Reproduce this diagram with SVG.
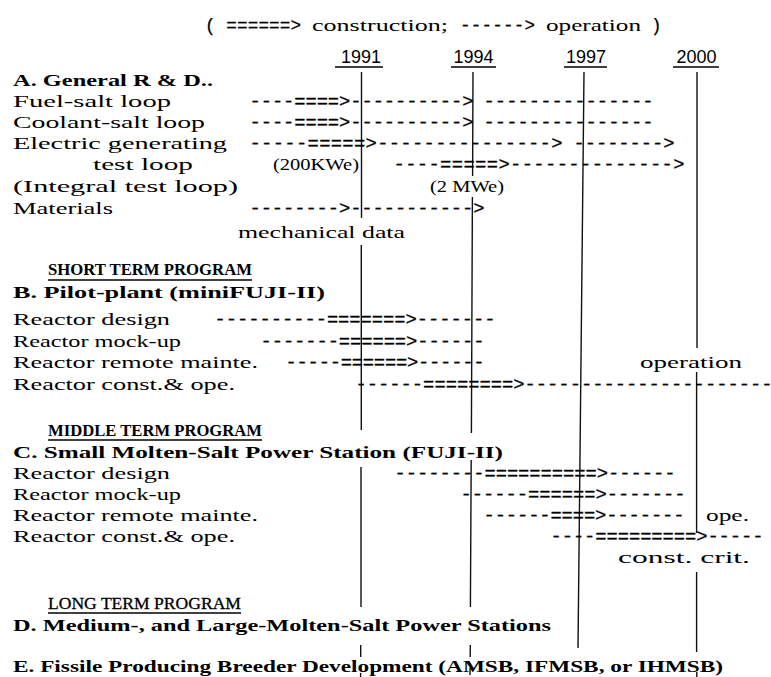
<svg xmlns="http://www.w3.org/2000/svg" width="771" height="677" viewBox="0 0 771 677">
<style>
.t{font-family:"Liberation Serif","Times New Roman",serif;font-size:17.5px;fill:#000}
.tm{font-family:"Liberation Mono","Courier New",monospace;font-size:17.6px;fill:#000;stroke:#000;stroke-width:0.25}
.b{font-family:"Liberation Serif","Times New Roman",serif;font-size:17.5px;font-weight:bold;fill:#000}
.bar{font-family:"Liberation Mono","Courier New",monospace;font-size:18.8px;fill:#000;stroke:#000;stroke-width:0.3}
.yr{font-family:"Liberation Sans",Arial,sans-serif;font-size:18px;fill:#000;text-anchor:middle}
.hd{font-family:"Liberation Serif","Times New Roman",serif;font-size:17px;font-weight:bold;fill:#000}
.lt{font-family:"Liberation Serif","Times New Roman",serif;font-size:17px;fill:#000;stroke:#000;stroke-width:0.3}
.ul{stroke:#000;stroke-width:1.3;fill:none}
.ln{stroke:#111;stroke-width:1.4;fill:none}
</style>
<rect width="771" height="677" fill="#fff"/>

<g id="legend">
<text class="tm" x="205" y="31" textLength="96" lengthAdjust="spacing">( ======&gt;</text>
<text class="t" x="312" y="31" font-size="17" textLength="136" lengthAdjust="spacingAndGlyphs">construction;</text>
<text class="tm" x="460" y="31" textLength="75" lengthAdjust="spacing">------&gt;</text>
<text class="t" x="546" y="31" font-size="17" textLength="95" lengthAdjust="spacingAndGlyphs">operation</text>
<text class="tm" x="651" y="31">)</text>
</g>

<g id="years">
<text class="yr" x="361" y="63">1991</text>
<text class="yr" x="473.5" y="63">1994</text>
<text class="yr" x="586" y="63">1997</text>
<text class="yr" x="696.5" y="63">2000</text>
<path class="ul" d="M335 67H383M451 67H496M564 67H607M673 67H719"/>
</g>

<g id="timelines">
<path class="ln" d="M361.5 72V218M361.3 245V430M361 467V607M360.7 645V657M360.6 673V677"/>
<path class="ln" d="M473 72L472.6 176M472.4 197L471.4 433M471.2 460L470.4 607M470.3 645L470.2 657M470.1 668L470 675"/>
<path class="ln" d="M584 72L578 648"/>
<path class="ln" d="M697 72V348M696.6 372V533M696.6 572V652M696.8 672V677"/>
</g>

<g id="sectionA">
<text class="b" x="13" y="86" textLength="200" lengthAdjust="spacingAndGlyphs">A. General R &amp; D..</text>
<g id="fuel-salt-loop">
<text class="t" x="13" y="107" textLength="158" lengthAdjust="spacingAndGlyphs">Fuel-salt loop</text>
<text class="bar" x="249.5" y="107" textLength="224" lengthAdjust="spacing">----====&gt;----------&gt;</text>
<text class="bar" x="483.5" y="107" textLength="170" lengthAdjust="spacing">---------------</text>
</g>
<g id="coolant-salt-loop">
<text class="t" x="13" y="128" textLength="192" lengthAdjust="spacingAndGlyphs">Coolant-salt loop</text>
<text class="bar" x="249.5" y="128" textLength="224" lengthAdjust="spacing">----====&gt;----------&gt;</text>
<text class="bar" x="483.5" y="128" textLength="170" lengthAdjust="spacing">---------------</text>
</g>
<g id="electric-generating">
<text class="t" x="13" y="149" textLength="214" lengthAdjust="spacingAndGlyphs">Electric generating</text>
<text class="t" x="93" y="170" textLength="100" lengthAdjust="spacingAndGlyphs">test loop</text>
<text class="bar" x="249.5" y="149" textLength="313" lengthAdjust="spacing">-----=====&gt;---------------&gt;</text>
<text class="bar" x="573.5" y="149" textLength="101" lengthAdjust="spacing">--------&gt;</text>
<text class="t" x="273" y="170" textLength="86" lengthAdjust="spacingAndGlyphs">(200KWe)</text>
<text class="bar" x="393.5" y="170" textLength="291" lengthAdjust="spacing">----=====&gt;--------------&gt;</text>
</g>
<g id="integral-test-loop">
<text class="t" x="13" y="192" textLength="225" lengthAdjust="spacingAndGlyphs">(Integral test loop)</text>
<text class="t" x="430" y="192" textLength="74" lengthAdjust="spacingAndGlyphs">(2 MWe)</text>
</g>
<g id="materials">
<text class="t" x="13" y="214" textLength="100" lengthAdjust="spacingAndGlyphs">Materials</text>
<text class="bar" x="249.5" y="214" textLength="235" lengthAdjust="spacing">--------&gt;-----------&gt;</text>
<text class="t" x="238" y="238" textLength="167" lengthAdjust="spacingAndGlyphs">mechanical data</text>
</g>
</g>

<g id="sectionB">
<text class="hd" x="48" y="275" textLength="204" lengthAdjust="spacingAndGlyphs">SHORT TERM PROGRAM</text>
<path class="ul" d="M48 280H252"/>
<text class="b" x="13" y="298" textLength="312" lengthAdjust="spacingAndGlyphs">B. Pilot-plant (miniFUJI-II)</text>
<g id="b-reactor-design">
<text class="t" x="13" y="325" textLength="157" lengthAdjust="spacingAndGlyphs">Reactor design</text>
<text class="bar" x="214.5" y="325" textLength="281" lengthAdjust="spacing">----------=======&gt;-------</text>
</g>
<g id="b-reactor-mockup">
<text class="t" x="13" y="347" textLength="168" lengthAdjust="spacingAndGlyphs">Reactor mock-up</text>
<text class="bar" x="260.5" y="347" textLength="224" lengthAdjust="spacing">-------======&gt;------</text>
</g>
<g id="b-reactor-remote">
<text class="t" x="13" y="368" textLength="245" lengthAdjust="spacingAndGlyphs">Reactor remote mainte.</text>
<text class="bar" x="285.5" y="368" textLength="199" lengthAdjust="spacing">-----======&gt;------</text>
<text class="t" x="640" y="368" textLength="102" lengthAdjust="spacingAndGlyphs">operation</text>
</g>
<g id="b-reactor-const">
<text class="t" x="13" y="390" textLength="222" lengthAdjust="spacingAndGlyphs">Reactor const.&amp; ope.</text>
<text class="bar" x="355.5" y="390">------========&gt;----------------------</text>
</g>
</g>

<g id="sectionC">
<text class="hd" x="48" y="436" textLength="214" lengthAdjust="spacingAndGlyphs">MIDDLE TERM PROGRAM</text>
<path class="ul" d="M48 440H262"/>
<text class="b" x="13" y="458" textLength="490" lengthAdjust="spacingAndGlyphs">C. Small Molten-Salt Power Station (FUJI-II)</text>
<g id="c-reactor-design">
<text class="t" x="13" y="479" textLength="157" lengthAdjust="spacingAndGlyphs">Reactor design</text>
<text class="bar" x="394.5" y="479" textLength="281" lengthAdjust="spacing">--------==========&gt;------</text>
</g>
<g id="c-reactor-mockup">
<text class="t" x="13" y="500" textLength="168" lengthAdjust="spacingAndGlyphs">Reactor mock-up</text>
<text class="bar" x="460.5" y="500" textLength="225" lengthAdjust="spacing">------======&gt;-------</text>
</g>
<g id="c-reactor-remote">
<text class="t" x="13" y="521" textLength="245" lengthAdjust="spacingAndGlyphs">Reactor remote mainte.</text>
<text class="bar" x="483.5" y="521" textLength="201" lengthAdjust="spacing">------====&gt;-------</text>
<text class="t" x="706" y="521" textLength="43" lengthAdjust="spacingAndGlyphs">ope.</text>
</g>
<g id="c-reactor-const">
<text class="t" x="13" y="542" textLength="222" lengthAdjust="spacingAndGlyphs">Reactor const.&amp; ope.</text>
<text class="bar" x="550.5" y="542" textLength="213" lengthAdjust="spacing">----=========&gt;-----</text>
<text class="t" x="618" y="563" textLength="132" lengthAdjust="spacingAndGlyphs">const. crit.</text>
</g>
</g>

<g id="sectionD">
<text class="lt" x="48" y="609" textLength="193" lengthAdjust="spacingAndGlyphs">LONG TERM PROGRAM</text>
<path class="ul" d="M48 613H241"/>
<text class="hd" x="13" y="631" font-size="18" textLength="538" lengthAdjust="spacingAndGlyphs">D. Medium-, and Large-Molten-Salt Power Stations</text>
</g>

<g id="sectionE">
<text class="hd" x="13" y="672" font-size="18" textLength="710" lengthAdjust="spacingAndGlyphs">E. Fissile Producing Breeder Development (AMSB, IFMSB, or IHMSB)</text>
</g>
</svg>
